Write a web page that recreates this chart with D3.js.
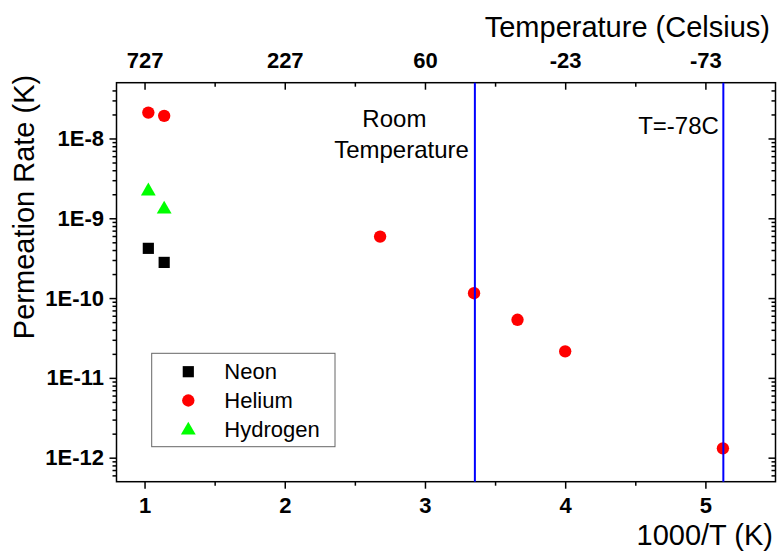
<!DOCTYPE html>
<html>
<head>
<meta charset="utf-8">
<script src="https://cdn.jsdelivr.net/npm/d3@7"></script>
<style>
	html, body { margin: 0; padding: 0; background: #fff; }
	svg { display: block; font-family: Arial, 'Liberation Sans', sans-serif; }
</style>
</head>
<body>
<div id="canvas"></div>
<script>
// data
const seriesNames = ['Neon', 'Helium', 'Hydrogen'];
const neonX = [1.027, 1.14];
const neonY = [4.2e-10, 2.8e-10];
const heliumX = [1.027, 1.14, 2.68, 3.35, 3.66, 4.0, 5.125];
const heliumY = [2.11e-8, 1.92e-8, 5.9e-10, 1.15e-10, 5.35e-11, 2.15e-11, 1.31e-12];
const hydrogenX = [1.027, 1.14];
const hydrogenY = [2.19e-9, 1.3e-9];
const xTicks = [1, 2, 3, 4, 5];
const xMinorTicks = [1.5, 2.5, 3.5, 4.5];
const celsiusLabels = ['727', '227', '60', '-23', '-73'];
const yTicks = [1e-12, 1e-11, 1e-10, 1e-9, 1e-8];
const yTickLabels = ['1E-12', '1E-11', '1E-10', '1E-9', '1E-8'];
const refLinesX = [3.356, 5.128];

const chart = {
	dims: { width: 777, height: 552 },
	margins: { top: 82.7, right: 1.5, bottom: 70.3, left: 116.5 },
	colors: { Neon: '#000000', Helium: '#ff0000', Hydrogen: '#00ff00' },
	shapes: { Neon: d3.symbolSquare, Helium: d3.symbolCircle, Hydrogen: d3.symbolTriangle },
	sizes: { Neon: 125, Helium: 120, Hydrogen: 95 },
};

drawChart();

function drawChart() {
	const { dims, margins } = chart;
	const { width, height } = dims;
	const x0 = margins.left;
	const x1 = width - margins.right;
	const y0 = margins.top;
	const y1 = height - margins.bottom;

	const x = d3.scaleLinear().domain([0.8, 5.5]).range([x0, x1]);
	const y = d3.scaleLog().domain([5e-13, 5e-8]).range([y1, y0]);

	const svg = d3.select('#canvas').append('svg').attr('width', width).attr('height', height);

	// log minor ticks
	const yMinor = [];
	for (let e = -13; e <= -8; e++) {
		for (let m = 2; m <= 9; m++) {
			const v = m * Math.pow(10, e);
			if (v > 5e-13 && v < 5e-8) yMinor.push(v);
		}
	}

	const styleAxis = (g, fs) => {
		g.select('.domain').remove();
		g.selectAll('line').attr('stroke', '#000').attr('stroke-width', 1.5);
		g.selectAll('text')
			.attr('fill', '#000')
			.attr('font-size', fs)
			.attr('font-weight', 'bold')
			.attr('font-family', 'Arial, Liberation Sans, sans-serif');
	};

	// bottom
	svg.append('g')
		.attr('transform', `translate(0,${y1})`)
		.call(d3.axisBottom(x).tickValues(xTicks).tickSizeInner(7).tickSizeOuter(0).tickPadding(8.7).tickFormat(d3.format('d')))
		.call(g => styleAxis(g, 22));
	svg.append('g')
		.attr('transform', `translate(0,${y1})`)
		.call(d3.axisBottom(x).tickValues(xMinorTicks).tickSizeInner(4).tickSizeOuter(0).tickFormat(''))
		.call(g => styleAxis(g, 22));

	// top (Celsius)
	svg.append('g')
		.attr('transform', `translate(0,${y0})`)
		.call(d3.axisTop(x).tickValues(xTicks).tickSizeInner(-7).tickSizeOuter(0).tickPadding(14.7)
			.tickFormat((d, i) => celsiusLabels[i]))
		.call(g => styleAxis(g, 22));
	svg.append('g')
		.attr('transform', `translate(0,${y0})`)
		.call(d3.axisTop(x).tickValues(xMinorTicks).tickSizeInner(-4).tickSizeOuter(0).tickFormat(''))
		.call(g => styleAxis(g, 22));

	// left
	svg.append('g')
		.attr('transform', `translate(${x0},0)`)
		.call(d3.axisLeft(y).tickValues(yTicks).tickSizeInner(7).tickSizeOuter(0).tickPadding(5.5)
			.tickFormat((d, i) => yTickLabels[i]))
		.call(g => styleAxis(g, 22));
	svg.append('g')
		.attr('transform', `translate(${x0},0)`)
		.call(d3.axisLeft(y).tickValues(yMinor).tickSizeInner(4).tickSizeOuter(0).tickFormat(''))
		.call(g => styleAxis(g, 22));

	// right
	svg.append('g')
		.attr('transform', `translate(${x1},0)`)
		.call(d3.axisRight(y).tickValues(yTicks).tickSizeInner(-7).tickSizeOuter(0).tickFormat(''))
		.call(g => styleAxis(g, 22));
	svg.append('g')
		.attr('transform', `translate(${x1},0)`)
		.call(d3.axisRight(y).tickValues(yMinor).tickSizeInner(-4).tickSizeOuter(0).tickFormat(''))
		.call(g => styleAxis(g, 22));

	// frame
	svg.append('rect')
		.attr('x', x0)
		.attr('y', y0)
		.attr('width', x1 - x0)
		.attr('height', y1 - y0)
		.attr('fill', 'none')
		.attr('stroke', '#000')
		.attr('stroke-width', 1.5);

	// points
	const series = [
		{ name: 'Neon', xs: neonX, ys: neonY },
		{ name: 'Helium', xs: heliumX, ys: heliumY },
		{ name: 'Hydrogen', xs: hydrogenX, ys: hydrogenY },
	];
	series.forEach(s => {
		const sym = d3.symbol().type(chart.shapes[s.name]).size(chart.sizes[s.name]);
		svg.append('g')
			.selectAll('path')
			.data(s.xs.map((v, i) => [v, s.ys[i]]))
			.join('path')
			.attr('d', sym)
			.attr('transform', d => `translate(${x(d[0])},${y(d[1])})`)
			.attr('fill', chart.colors[s.name]);
	});

	// reference lines
	svg.append('g')
		.selectAll('line')
		.data(refLinesX)
		.join('line')
		.attr('x1', d => x(d))
		.attr('x2', d => x(d))
		.attr('y1', y0)
		.attr('y2', y1)
		.attr('stroke', '#0000ff')
		.attr('stroke-width', 2);

	const note = (txt, tx, ty, size, anchor) =>
		svg.append('text')
			.attr('x', tx)
			.attr('y', ty)
			.attr('font-size', size)
			.attr('text-anchor', anchor)
			.attr('fill', '#000')
			.text(txt);

	note('Room', x(refLinesX[0]) - 80.5, 127, 24, 'middle');
	note('Temperature', x(refLinesX[0]) - 6, 158, 24, 'end');
	note('T=-78C', x(refLinesX[1]) - 4.5, 134, 24, 'end');

	// axis titles
	note('Temperature (Celsius)', 770, 37, 29, 'end');
	note('1000/T (K)', 773, 545, 29, 'end');
	svg.append('text')
		.attr('transform', 'translate(34,207) rotate(-90)')
		.attr('font-size', 29)
		.attr('text-anchor', 'middle')
		.attr('fill', '#000')
		.text('Permeation Rate (K)');

	// legend
	const legend = svg.append('g').attr('transform', 'translate(151.7,353.3)');
	legend.append('rect')
		.attr('width', 183.3)
		.attr('height', 93.4)
		.attr('fill', '#fff')
		.attr('stroke', '#666')
		.attr('stroke-width', 1);
	seriesNames.forEach((name, i) => {
		const cy = 18.4 + i * 28.8;
		legend.append('path')
			.attr('d', d3.symbol().type(chart.shapes[name]).size(chart.sizes[name])())
			.attr('transform', `translate(36.6,${cy + (name === 'Hydrogen' ? 1 : 0)})`)
			.attr('fill', chart.colors[name]);
		legend.append('text')
			.attr('x', 72.6)
			.attr('y', cy + 7.8)
			.attr('font-size', 22)
			.attr('fill', '#000')
			.text(name);
	});
}
</script>
</body>
</html>
